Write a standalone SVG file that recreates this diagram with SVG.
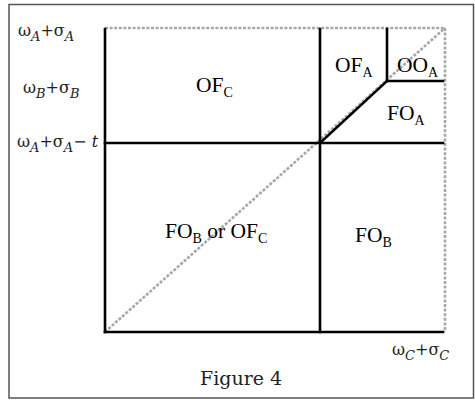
<svg xmlns="http://www.w3.org/2000/svg" width="475" height="400" viewBox="0 0 475 400">
<style>
.frame{fill:#fff;stroke:#555;stroke-width:1.5}
.solid{stroke:#000;stroke-width:2.6;fill:none;stroke-linecap:square}
.dot{stroke:#a8a8a8;stroke-width:2.6;fill:none;stroke-dasharray:3 1.6}
.axis{font-family:"DejaVu Serif","Liberation Serif",serif;font-size:16px;fill:#222}
.axis .s{font-style:italic;font-size:13px}
.reg{font-family:"Liberation Serif","Times New Roman",serif;font-size:21.5px;fill:#000}
.reg .s{font-size:14px}
.cap{font-family:"DejaVu Serif","Liberation Serif",serif;font-size:19px;fill:#222}
</style>
<rect class="frame" x="9" y="4.5" width="464.5" height="393.5"/>
<g id="connectors">
<line class="dot" x1="105" y1="28" x2="445" y2="28"/>
<line class="dot" x1="445" y1="28" x2="445" y2="332"/>
<line class="dot" x1="105" y1="332" x2="445" y2="28"/>
<line class="solid" x1="105" y1="29" x2="105" y2="332"/>
<line class="solid" x1="105" y1="332" x2="443" y2="332"/>
<line class="solid" x1="320" y1="29" x2="320" y2="332"/>
<line class="solid" x1="105" y1="143" x2="443" y2="143"/>
<line class="solid" x1="320" y1="143" x2="387" y2="81"/>
<line class="solid" x1="387" y1="29" x2="387" y2="81"/>
<line class="solid" x1="387" y1="81" x2="443" y2="81"/>
</g>
<g id="axis-labels">
<text class="axis" x="18" y="36">ω<tspan class="s" dy="5">A</tspan><tspan dy="-5">+σ</tspan><tspan class="s" dy="5">A</tspan></text>
<text class="axis" x="23" y="93">ω<tspan class="s" dy="5">B</tspan><tspan dy="-5">+σ</tspan><tspan class="s" dy="5">B</tspan></text>
<text class="axis" x="17" y="147">ω<tspan class="s" dy="5">A</tspan><tspan dy="-5">+σ</tspan><tspan class="s" dy="5">A</tspan><tspan dy="-5">− </tspan><tspan font-style="italic">t</tspan></text>
<text class="axis" x="392" y="355">ω<tspan class="s" dy="5">C</tspan><tspan dy="-5">+σ</tspan><tspan class="s" dy="5">C</tspan></text>
</g>
<g id="OFC"><text class="reg" x="196" y="92">OF<tspan class="s" dy="5">C</tspan></text></g>
<g id="OFA"><text class="reg" x="335" y="72">OF<tspan class="s" dy="5">A</tspan></text></g>
<g id="OOA"><text class="reg" x="397" y="72">OO<tspan class="s" dy="5">A</tspan></text></g>
<g id="FOA"><text class="reg" x="387" y="120">FO<tspan class="s" dy="5">A</tspan></text></g>
<g id="FOBorOFC"><text class="reg" x="165" y="238">FO<tspan class="s" dy="5">B</tspan><tspan dy="-5"> or OF</tspan><tspan class="s" dy="5">C</tspan></text></g>
<g id="FOB"><text class="reg" x="355" y="242">FO<tspan class="s" dy="5">B</tspan></text></g>
<text class="cap" x="200" y="385">Figure 4</text>
</svg>
